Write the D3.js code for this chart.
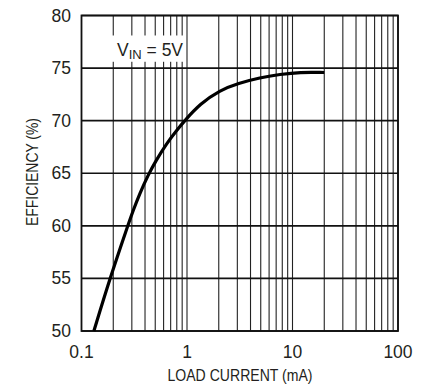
<!DOCTYPE html>
<html><head><meta charset="utf-8">
<script src="https://cdn.jsdelivr.net/npm/d3@7"></script>
<style>
html,body{margin:0;padding:0;background:#fff;}
text{font-family:"Liberation Sans Narrow","Arial Narrow","Liberation Sans",sans-serif;fill:#231f20;}
</style></head>
<body><svg id="c" width="430" height="392"></svg>
<script>
const loadCurrent = [0.131, 0.186, 0.272, 0.310, 0.353, 0.430, 0.505, 0.642, 0.80, 0.96, 1.33, 2.05, 3.06, 4.92, 7.62, 11.7, 20];
const efficiency  = [50, 55, 59.9, 61.5, 62.98, 64.88, 66.16, 67.85, 69.1, 70.05, 71.6, 72.9, 73.55, 74.1, 74.4, 74.62, 74.58];
const xTicks = [0.1, 1, 10, 100];
const xTickLabels = ["0.1", "1", "10", "100"];
const yTicks = [50, 55, 60, 65, 70, 75, 80];
const xTitle = "LOAD CURRENT (mA)";
const yTitle = "EFFICIENCY (%)";

const svg = d3.select("#c");
const L = 81.5, R = 398, T = 15.5, B = 331;
const x = d3.scaleLog().domain([0.1, 100]).range([L, R]);
const y = d3.scaleLinear().domain([50, 80]).range([B, T]);

// minor vertical grid
const minor = [];
for (let d = 0.1; d < 100; d *= 10) for (let k = 2; k <= 10; k++) minor.push(+(d * k).toPrecision(3));
svg.append("g").selectAll("line").data(minor).join("line")
  .attr("x1", d => x(d)).attr("x2", d => x(d)).attr("y1", T).attr("y2", B)
  .attr("stroke", "#222").attr("stroke-width", 1.1);
// horizontal grid
svg.append("g").selectAll("line").data(yTicks).join("line")
  .attr("x1", L).attr("x2", R).attr("y1", d => y(d)).attr("y2", d => y(d))
  .attr("stroke", "#111").attr("stroke-width", 1.6);
// frame
svg.append("rect").attr("x", L).attr("y", T).attr("width", R - L).attr("height", B - T)
  .attr("fill", "none").attr("stroke", "#111").attr("stroke-width", 1.8);

// label box
svg.append("rect").attr("x", x(0.185)).attr("y", y(78.1)).attr("width", x(0.9) - x(0.185) + 3).attr("height", y(75.6) - y(78.1))
  .attr("fill", "#fff");
const lab = svg.append("text").attr("x", 117).attr("y", 56).attr("font-size", 17.5);
lab.append("tspan").text("V");
lab.append("tspan").attr("font-size", 13).attr("dy", 3).text("IN");
lab.append("tspan").attr("dy", -3).text(" = 5V");

// curve
const pts = loadCurrent.map((c, i) => [c, efficiency[i]]);
svg.append("path").datum(pts)
  .attr("d", d3.line().x(d => x(d[0])).y(d => y(d[1])).curve(d3.curveBasis))
  .attr("fill", "none").attr("stroke", "#000").attr("stroke-width", 3.2).attr("stroke-linecap", "butt");

// axes labels
svg.append("g").selectAll("text").data(xTicks).join("text")
  .attr("x", d => x(d)).attr("y", 358).attr("text-anchor", "middle").attr("font-size", 17.5)
  .text((d, i) => xTickLabels[i]);
svg.append("g").selectAll("text").data(yTicks).join("text")
  .attr("x", 71).attr("y", d => y(d) + 6).attr("text-anchor", "end").attr("font-size", 17.5)
  .text(d => d);
svg.append("text").attr("x", 240).attr("y", 381).attr("text-anchor", "middle").attr("font-size", 16.5)
  .attr("textLength", 145).attr("lengthAdjust", "spacingAndGlyphs").text(xTitle);
svg.append("text").attr("transform", "translate(38,172) rotate(-90)").attr("text-anchor", "middle").attr("font-size", 16)
  .attr("textLength", 108).attr("lengthAdjust", "spacingAndGlyphs").text(yTitle);
</script></body></html>
